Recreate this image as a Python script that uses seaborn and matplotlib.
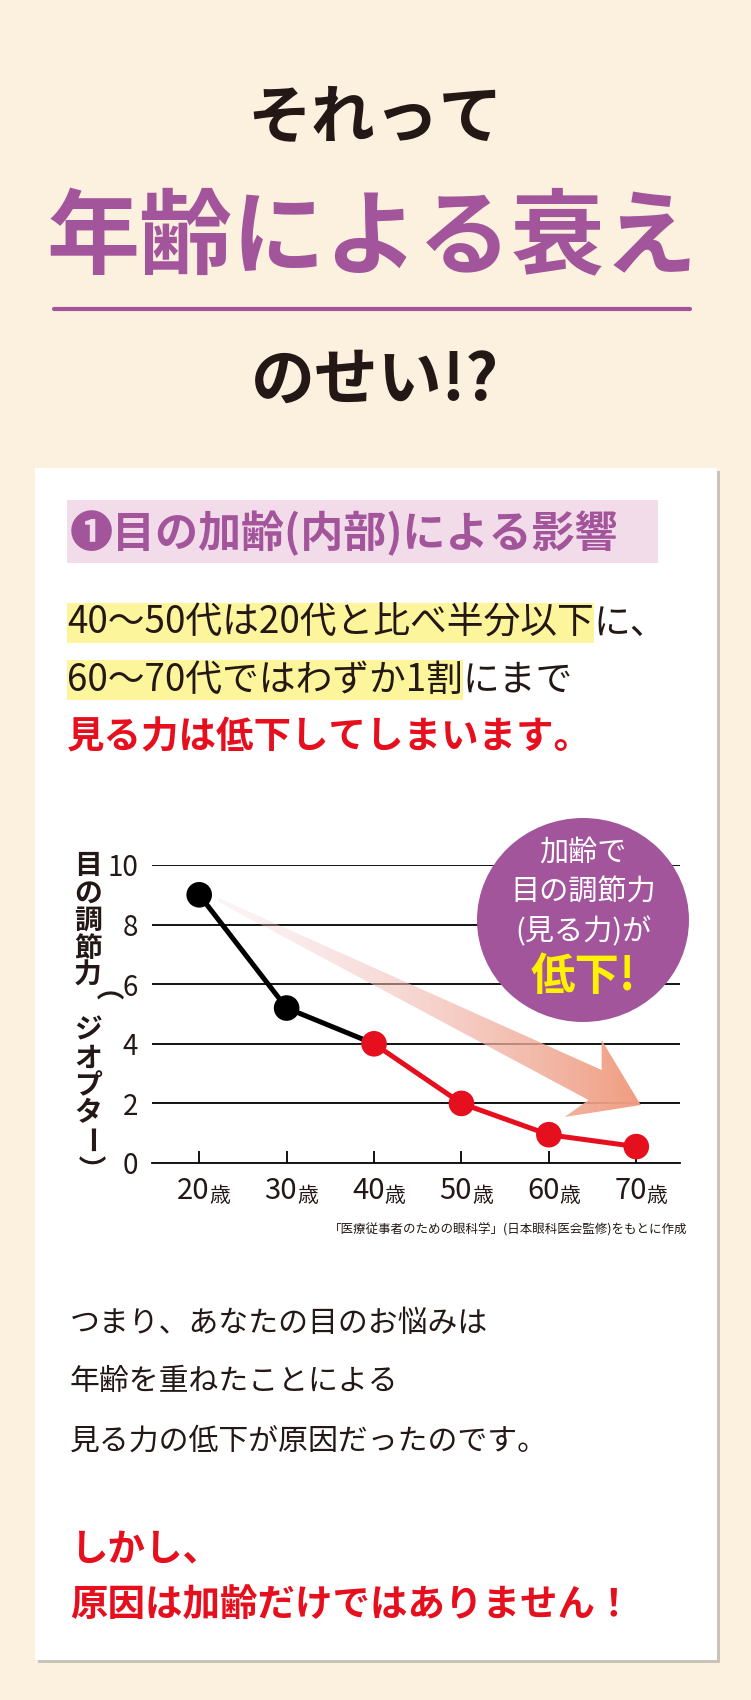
import numpy as np
import pandas as pd
import matplotlib
matplotlib.use("Agg")
import matplotlib.pyplot as plt
import seaborn as sns
from matplotlib.patches import Rectangle, Polygon, Ellipse

sns.set_theme(style="white")
plt.rcParams['font.family'] = ['Noto Sans CJK JP', 'DejaVu Sans']

ages = ["20", "30", "40", "50", "60", "70"]
diopter = [9.0, 5.2, 4.0, 2.0, 0.95, 0.55]
yticks = [0, 2, 4, 6, 8, 10]
ylabel_chars = ["目", "の", "調", "節", "力", "（", "ジ", "オ", "プ", "タ", "ー", "）"]

W, H = 751, 1700
fig = plt.figure(figsize=(W/100, H/100), dpi=100)
fig.patch.set_facecolor("#fbf1de")
ov = fig.add_axes([0, 0, 1, 1])
ov.set_xlim(0, W); ov.set_ylim(H, 0); ov.axis("off")

PURPLE = "#a2559b"; RED = "#e60f1e"; INK = "#231815"

def T(x, y, s, **kw):
    return ov.text(x, y, s, **kw)

T(375, 119, "それって", ha="center", va="center", fontsize=46, fontweight="bold", color=INK)
T(372, 240, "年齢による衰え", ha="center", va="center", fontsize=67, fontweight="bold", color=PURPLE)
ov.plot([54, 690], [309, 309], color=PURPLE, lw=3, solid_capstyle="round")
T(375, 381, "のせい!?", ha="center", va="center", fontsize=46, fontweight="bold", color=INK)

# card
ov.add_patch(Rectangle((38, 471), 682, 1192, facecolor="#c9c3ba", edgecolor="none", zorder=0))
ov.add_patch(Rectangle((35, 468), 682, 1192, facecolor="white", edgecolor="none", zorder=0.5))
ov.add_patch(Rectangle((67, 500), 591, 63, facecolor="#f3dce9", edgecolor="none", zorder=1))
T(70, 533, "❶目の加齢(内部)による影響", ha="left", va="center", fontsize=31, fontweight="bold", color=PURPLE, zorder=2)

fig.canvas.draw()
rend = fig.canvas.get_renderer()
def seq(x, y, parts, size=26.5, weight="normal"):
    for s, col, hl in parts:
        t = T(x, y, s, ha="left", va="center", fontsize=size, fontweight=weight, color=col, zorder=3)
        bb = t.get_window_extent(rend)
        if hl:
            ov.add_patch(Rectangle((x, y-20), bb.width, 40, facecolor="#fdf59c", edgecolor="none", zorder=2))
        x += bb.width

seq(67, 623, [("40〜50代は20代と比べ半分以下", INK, True), ("に、", INK, False)])
seq(67, 680, [("60〜70代ではわずか1割", INK, True), ("にまで", INK, False)])
seq(67, 737, [("見る力は低下してしまいます。", RED, False)], size=27, weight="bold")

# chart
x0, x1, ytop, ybot = 152, 680, 865, 1163
ax = fig.add_axes([x0/W, 1-ybot/H, (x1-x0)/W, (ybot-ytop)/H])
ax.patch.set_alpha(0)
idx = list(range(len(ages)))
ax.set_xlim(-0.54, 5.5); ax.set_ylim(0, 10)
for v in yticks[1:]:
    ax.axhline(v, color="black", lw=1.3, zorder=1)
for s in ["top", "right", "left"]:
    ax.spines[s].set_visible(False)
ax.spines["bottom"].set_color("black"); ax.spines["bottom"].set_linewidth(1.3)
ax.set_yticks(yticks); ax.set_yticklabels([str(v) for v in yticks], fontsize=20, color=INK)
ax.tick_params(axis="y", length=0, pad=10)
ax.set_xticks(idx); ax.set_xticklabels([])
ax.tick_params(axis="x", direction="in", length=9, width=1.3, color="black", bottom=True)
for i, a in enumerate(ages):
    ax.text(i+0.12, -0.45, a, transform=ax.transData, ha="right", va="top", fontsize=21, color=INK)
    ax.text(i+0.12, -0.75, "歳", transform=ax.transData, ha="left", va="top", fontsize=15, color=INK)

# gradient arrow (pixel coordinates of overlay)
arrow = np.array([(218.5, 898), (601.6, 1070), (601.6, 1040), (640.8, 1105),
                  (564.6, 1117), (588.5, 1100), (218.5, 902)])
poly = Polygon(arrow, closed=True, transform=ov.transData, facecolor="none", edgecolor="none")
ax.add_patch(poly)
g = np.linspace(0, 1, 256)
c0 = np.array(matplotlib.colors.to_rgb("#f3d3dc")); c1 = np.array(matplotlib.colors.to_rgb("#f09d80"))
img = np.zeros((2, 256, 4))
img[..., :3] = c0 + (c1 - c0) * g[:, None]
img[..., 3] = 0.25 + 0.75 * g
im = ax.imshow(img, extent=(218, 641, 1117, 898), transform=ov.transData, aspect="auto", zorder=2, interpolation="bilinear")
im.set_clip_path(poly)
ax.set_xlim(-0.54, 5.5); ax.set_ylim(0, 10)

df = pd.DataFrame({"i": idx, "v": diopter})
sns.lineplot(data=df.iloc[:3], x="i", y="v", ax=ax, color="black", lw=3.6, zorder=3)
sns.lineplot(data=df.iloc[2:], x="i", y="v", ax=ax, color=RED, lw=3.6, zorder=3)
sns.scatterplot(data=df.iloc[:2], x="i", y="v", ax=ax, color="black", s=340, edgecolor="none", zorder=4, clip_on=False)
sns.scatterplot(data=df.iloc[2:], x="i", y="v", ax=ax, color=RED, s=340, edgecolor="none", zorder=4, clip_on=False)
ax.set_xlabel(""); ax.set_ylabel("")

# vertical y label
for k, ch in enumerate(ylabel_chars):
    rot = -90 if ch in "（）ー" else 0
    T(88, 866 + k*27.5, ch, ha="center", va="center", fontsize=20, fontweight="bold", color=INK,
      rotation=rot, rotation_mode="anchor")

# bubble
ov2 = fig.add_axes([0, 0, 1, 1], zorder=5)
ov2.set_xlim(0, W); ov2.set_ylim(H, 0); ov2.axis("off")
ov2.add_patch(Ellipse((583, 920), 212, 204, facecolor=PURPLE, edgecolor="none"))
for y, s in [(853, "加齢で"), (893, "目の調節力"), (932, "(見る力)が")]:
    ov2.text(583, y, s, ha="center", va="center", fontsize=21, color="white")
ov2.text(583, 977, "低下!", ha="center", va="center", fontsize=32, fontweight="bold", color="#fff200")

T(687, 1230, "「医療従事者のための眼科学」(日本眼科医会監修)をもとに作成", ha="right", va="center", fontsize=9, color=INK)

for y, s in [(1324, "つまり、あなたの目のお悩みは"), (1382, "年齢を重ねたことによる"), (1441, "見る力の低下が原因だったのです。")]:
    T(70, y, s, ha="left", va="center", fontsize=21.5, color=INK)
T(70, 1550, "しかし、", ha="left", va="center", fontsize=27, fontweight="bold", color=RED)
T(70, 1604, "原因は加齢だけではありません！", ha="left", va="center", fontsize=27, fontweight="bold", color=RED)

fig.savefig("out.png", dpi=100, facecolor=fig.get_facecolor())
